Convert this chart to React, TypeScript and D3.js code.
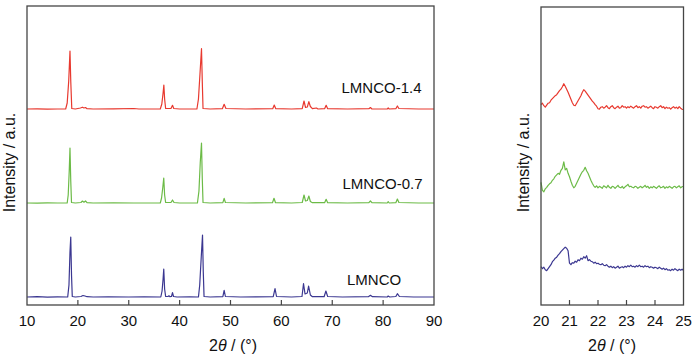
import React from "react";
import * as d3 from "d3";

// ---------- DATA ----------
// Full-range XRD patterns (2θ, intensity a.u. above own baseline)
const lmncoFull: [number, number][] = [
  [10, 0], [12, 0.3], [14, -0.2], [16, 0.2], [18.0, 0], [18.25, 12], [18.45, 45], [18.6, 60], [18.75, 22], [18.9, 0.5],
  [19.5, 0], [20.6, 0.5], [21.0, 1.5], [21.4, 1], [21.8, 0.3], [23, 0], [26, 0.2], [30, 0], [33, 0.2], [36.3, 0],
  [36.55, 6], [36.75, 18], [36.88, 28], [37.05, 8], [37.25, 0.5], [37.7, 0.5], [37.9, 1.2], [38.1, 0.3], [38.4, 0.5],
  [38.6, 4.3], [38.8, 0.5], [39.5, 0], [42, 0.2], [43.7, 0], [43.95, 12], [44.25, 40], [44.5, 62], [44.65, 25], [44.8, 0.5],
  [46, 0], [48.5, 0.3], [48.75, 6.7], [49.0, 0.5], [52, 0], [55, 0.2], [58.4, 0.3], [58.75, 8.3], [59.05, 0.5],
  [62, 0], [64.05, 0.5], [64.35, 13.3], [64.65, 3], [65.1, 4], [65.35, 11], [65.7, 2], [66.1, 0.3], [68.4, 0.3],
  [68.75, 6], [69.1, 0.5], [72, 0], [77.1, 0.3], [77.5, 1.7], [77.9, 0.3], [80.8, 0], [81.0, 1], [81.3, 0],
  [82.5, 0.5], [82.8, 3.3], [83.2, 0.5], [86, 0], [90, 0],
];
const lmnco07Full: [number, number][] = [
  [10, 0], [12, -0.2], [14, 0.2], [16, 0], [17.9, 0], [18.1, 8], [18.3, 32], [18.45, 55], [18.6, 22], [18.75, 0.5],
  [19.5, 0], [20.6, 0.5], [20.9, 2], [21.2, 0.8], [21.5, 2], [21.8, 0.3], [23, 0], [27, 0.2], [31, 0], [36.2, 0],
  [36.45, 5], [36.7, 16], [36.88, 25], [37.05, 8], [37.25, 0.5], [38.3, 0.5], [38.6, 3], [38.9, 0.5], [40, 0],
  [43.5, 0], [43.8, 12], [44.05, 40], [44.3, 60], [44.45, 25], [44.6, 0.5], [46, 0], [48.5, 0.3], [48.75, 4.7],
  [49.0, 0.5], [53, 0], [58.25, 0.3], [58.55, 4.7], [58.85, 0.3], [62, 0], [64.1, 0.5], [64.45, 8], [64.75, 2],
  [65.1, 2.5], [65.4, 7], [65.7, 1.5], [66.1, 0.3], [68.5, 0.3], [68.8, 3.7], [69.1, 0.3], [73, 0], [77.2, 0.3],
  [77.5, 2], [77.8, 0.3], [80.8, 0], [81.0, 1.3], [81.2, 0], [82.5, 0.3], [82.8, 4], [83.1, 0.5], [87, 0], [90, 0],
];
const lmnco14Full: [number, number][] = [
  [10, 0], [12, 0.2], [14, -0.2], [16, 0], [17.6, 0], [17.9, 6], [18.2, 28], [18.45, 58], [18.6, 28], [18.8, 0.5],
  [19.5, 0], [20.5, 1], [20.9, 1.8], [21.2, 1], [21.5, 1.5], [21.8, 0.3], [23, 0], [27, 0.2], [31, 0.5], [32, 0],
  [36.2, 0], [36.5, 5], [36.75, 16], [36.9, 24], [37.05, 10], [37.25, 0.5], [38.3, 0.5], [38.6, 3.7], [38.85, 0.5],
  [40, 0], [43.4, 0], [43.7, 10], [44.0, 35], [44.3, 60.3], [44.45, 28], [44.6, 0.5], [46, 0], [48.4, 0.3],
  [48.75, 4.7], [49.1, 0.5], [53, 0], [58.3, 0.3], [58.6, 4], [58.9, 0.3], [62, 0], [64.1, 0.3], [64.45, 8],
  [64.75, 1.5], [65.1, 2], [65.4, 7.3], [65.7, 2.5], [66.1, 0.3], [66.9, 1], [67.2, 0], [68.5, 0.3], [68.8, 3.7],
  [69.1, 0.3], [73, 0], [77.2, 0.3], [77.5, 1.5], [77.8, 0], [80.8, 0], [81.0, 1], [81.2, 0], [82.5, 0.3],
  [82.8, 3], [83.1, 0.5], [87, 0], [90, 0],
];

// Zoomed region 20–25°, sampled every 0.05°
const zoomTheta: number[] = d3.range(101).map((i) => +(20 + i * 0.05).toFixed(2));
const lmncoZoom: number[] = [
  1, -1, 0.5, -2, -3, -1, 1, 3, 6, 7.5, 9.5, 10.5, 12.5, 14, 16, 17.5, 19, 20.5, 19.5, 17,
  4.5, 3, 5, 4.5, 6.5, 5.5, 8, 7, 9.5, 8.5, 11, 9.5, 12, 7, 8, 6.5, 6, 4.5, 5.5, 4,
  4.5, 3.5, 3, 4, 2.5, 2, 3, 1.5, 0.5, 1.5, 0, 1, -0.5, 0.5, 1.5, -0.5, 0.5, 1, 0, 1.5,
  0.5, 2, 1, 2.5, 1, 1.5, 0.5, 2, 1, 2.5, 1, 1.5, 0.5, 2, 1, 1.5, 0, 1, 0.5, -0.5,
  0.5, 0, -1, 0.5, -0.5, -1.5, -0.5, -2, -1, -2.5, -2, -3, -1.5, -2.5, -1, -2, -3, -1.5, -2.5, -1.5,
  -3,
];
const lmnco07Zoom: number[] = [
  5, -3, -4.5, -1.5, 0, 2, 3.5, 4.5, 7, 8.5, 11, 12.5, 14, 13, 17, 19, 25.5, 17.5, 19, 14,
  10.5, 6, 2, -0.5, 1, 4, 7, 10, 13, 15.5, 17, 20, 16.5, 14, 10.5, 7, 4, 1.5, 0, 1.5,
  -0.5, 1, 0, -1, 1.5, 0.5, -0.5, 2, 0, -1, 1, 0.5, -1, 0.5, 2, 0, -0.5, 1, -1, 0.5,
  1.5, 3, 0.5, 1, 0, -0.5, 1, 0.5, -1, 0, 1, -0.5, 0.5, 2, 0, 1, -1, 0.5, -0.5, 1,
  0, -1, 0.5, 1.5, -0.5, 0, 1, -1, 0.5, -0.5, 1, 0, -1, 0.5, 1, -0.5, 0.5, 1.5, -0.5, 0.5,
  1,
];
const lmnco14Zoom: number[] = [
  3, 4.5, 2, 0.5, 2.5, 4.5, 5, 7.5, 9, 10.5, 12, 13, 15, 17, 18.5, 21, 24, 21.5, 18.5, 15.5,
  12, 8.5, 5, 2.5, 2, 4.5, 7, 9.5, 12, 15.5, 18, 16.5, 14.5, 12.5, 10.5, 8.5, 6.5, 5, 3, 1.5,
  -1, -1.5, 0.5, 1, -0.5, 0.5, 2, 0, -1, 1, 2, 0, -1, 0.5, 1.5, -0.5, 0, 2, 0.5, 1,
  -0.5, 1, 0, 1.5, 0.5, -0.5, 1, 2, 0, 1, -0.5, 1.5, 2, 0.5, 1, -0.5, 0.5, 1.5, 0, -1,
  1, 0.5, -0.5, 1, 2, 0, 1, -1, 0.5, -0.5, 0, -1.5, 0, 1, -0.5, 0.5, -1, 1, -0.5, -1.5,
  -2,
];

const seriesNames = ["LMNCO", "LMNCO-0.7", "LMNCO-1.4"];
const xTicksFull = [10, 20, 30, 40, 50, 60, 70, 80, 90];
const xTicksZoom = [20, 21, 22, 23, 24, 25];

// ---------- STYLE / LAYOUT ----------
const colors = ["#3b3791", "#6cbb47", "#e8392f"];
const fullOffsets = [8, 102, 196];
const zoomOffsets = [37.3, 117.7, 197.3];
const labelPos = [
  { x: 347, y: 285 },
  { x: 342.5, y: 188.5 },
  { x: 341.5, y: 92.5 },
];
const FONT = "'Liberation Sans', Arial, sans-serif";
const AXIS = "#454545";

export default function App() {
  const xL = d3.scaleLinear().domain([10, 90]).range([27, 434]);
  const yL = d3.scaleLinear().domain([0, 299]).range([305, 6]);
  const xR = d3.scaleLinear().domain([20, 25]).range([541, 683.5]);
  const yR = d3.scaleLinear().domain([0, 298]).range([305, 7]);

  const fullData = [lmncoFull, lmnco07Full, lmnco14Full];
  const zoomData = [lmncoZoom, lmnco07Zoom, lmnco14Zoom];

  const lineFull = (k: number) =>
    d3
      .line<[number, number]>()
      .x((d) => xL(d[0]))
      .y((d) => yL(d[1] + fullOffsets[k]))(fullData[k]) || "";
  const lineZoom = (k: number) =>
    d3
      .line<number>()
      .x((_, i) => xR(zoomTheta[i]))
      .y((d) => yR(d + zoomOffsets[k]))(zoomData[k]) || "";

  return (
    <svg
      width={700}
      height={357}
      style={{ position: "absolute", left: 0, top: 0, background: "#fff" }}
      fontFamily={FONT}
    >
      {/* Left panel */}
      {fullData.map((_, k) => (
        <path key={"f" + k} d={lineFull(k)} fill="none" stroke={colors[k]} strokeWidth={1.2} strokeLinejoin="round" />
      ))}
      <rect x={27} y={6} width={407} height={299} fill="none" stroke={AXIS} strokeWidth={1.3} />
      {xTicksFull.map((t) => (
        <g key={"tl" + t}>
          {t > 10 && t < 90 && <line x1={xL(t)} x2={xL(t)} y1={305} y2={300} stroke={AXIS} strokeWidth={1.2} />}
          <text x={xL(t)} y={325.5} fontSize={15} textAnchor="middle" fill="#111">
            {t}
          </text>
        </g>
      ))}
      {seriesNames.map((n, k) => (
        <text key={"lab" + k} x={labelPos[k].x} y={labelPos[k].y} fontSize={15} fill="#111">
          {n}
        </text>
      ))}
      <text x={233} y={351} fontSize={16} textAnchor="middle" fill="#111">
        2<tspan fontStyle="italic">θ</tspan> / (°)
      </text>
      <text transform="translate(14.5,162.5) rotate(-90)" fontSize={16} textAnchor="middle" fill="#111">
        Intensity / a.u.
      </text>

      {/* Right panel */}
      {zoomData.map((_, k) => (
        <path key={"z" + k} d={lineZoom(k)} fill="none" stroke={colors[k]} strokeWidth={1.2} strokeLinejoin="round" />
      ))}
      <rect x={541} y={7} width={142.5} height={298} fill="none" stroke={AXIS} strokeWidth={1.3} />
      {xTicksZoom.map((t) => (
        <g key={"tr" + t}>
          {t > 20 && t < 25 && <line x1={xR(t)} x2={xR(t)} y1={305} y2={300} stroke={AXIS} strokeWidth={1.2} />}
          <text x={xR(t)} y={325.5} fontSize={15} textAnchor="middle" fill="#111">
            {t}
          </text>
        </g>
      ))}
      <text x={612} y={351} fontSize={16} textAnchor="middle" fill="#111">
        2<tspan fontStyle="italic">θ</tspan> / (°)
      </text>
      <text transform="translate(528.5,162.5) rotate(-90)" fontSize={16} textAnchor="middle" fill="#111">
        Intensity / a.u.
      </text>
    </svg>
  );
}
